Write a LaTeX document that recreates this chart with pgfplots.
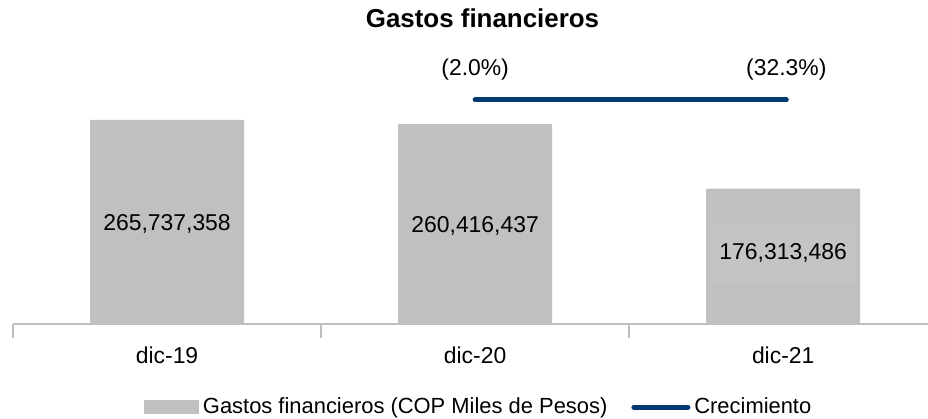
\documentclass[border=0pt]{standalone}
\usepackage{fontspec}
\setmainfont{Liberation Sans}
\usepackage{pgfplots}
\pgfplotsset{compat=1.18}
\definecolor{bargray}{HTML}{C0C0C0}
\definecolor{labelbox}{HTML}{C4C4C4}
\definecolor{linenavy}{HTML}{003A70}
\definecolor{axisgray}{HTML}{BFBFBF}
\newcommand{\lblfont}{\fontsize{11.5}{13}\selectfont}
\begin{document}
\begin{tikzpicture}
\useasboundingbox (-6.5bp,-47.5bp) rectangle (457.5bp,162bp);
\begin{axis}[
  scale only axis, width=457.5bp, height=162bp,
  xmin=-0.5, xmax=2.47, ymin=0, ymax=421900000,
  axis x line*=bottom, axis y line=none,
  x axis line style={axisgray, line width=0.8bp},
  ytick=\empty, scaled y ticks=false,
  xtick={0,1,2}, xticklabels={dic-19,dic-20,dic-21},
  major tick length=0pt,
  extra x ticks={-0.5,0.5,1.5},
  extra x tick labels={},
  extra x tick style={major tick length=7bp, tick align=outside,
    tick style={axisgray, line width=0.8bp}},
  xticklabel style={anchor=center, yshift=-15.5bp, font=\lblfont},
  title={Gastos financieros},
  title style={at={(0.5,1)}, anchor=center, yshift=-15bp, xshift=6bp,
    font=\fontsize{13}{15}\selectfont\bfseries},
  legend style={at={(0.51,0)}, anchor=center, yshift=-41.5bp,
    draw=none, fill=none, legend columns=2,
    font=\fontsize{11}{13}\selectfont,
    /tikz/every even column/.append style={column sep=10bp}},
  clip=false,
]
% bars
\addplot[ybar, bar width=0.5, fill=bargray, draw=none,
  legend image code/.code={\fill[bargray] (-1bp,-3.5bp) rectangle (26.5bp,3.5bp);}]
  coordinates {(0,265737358) (1,260416437) (2,176313486)};
\addlegendentry{Gastos financieros (COP Miles de Pesos)}
% growth line
\addplot[linenavy, line width=2.5bp, line cap=round,
  nodes near coords, point meta=explicit symbolic,
  every node near coord/.style={anchor=center, yshift=15bp, black, font=\lblfont},
  legend image code/.code={\draw[linenavy, line width=2.5bp, line cap=round] (0bp,0bp) -- (27bp,0bp);}]
  coordinates {(1,291700000) [(2.0\%)] (2.01,291700000) [(32.3\%)]};
\addlegendentry{Crecimiento}
% value labels
\addplot[draw=none, forget plot, nodes near coords, point meta=explicit symbolic,
  every node near coord/.style={anchor=center, black, font=\lblfont}]
  coordinates {(0,130000000) [265,737,358] (1,127500000) [260,416,437]};
\addplot[draw=none, forget plot, nodes near coords, point meta=explicit symbolic,
  every node near coord/.style={anchor=center, black, font=\lblfont,
    fill=labelbox, minimum width=72bp, minimum height=30bp}]
  coordinates {(2,92400000) [176,313,486]};
\end{axis}
\end{tikzpicture}
\end{document}
